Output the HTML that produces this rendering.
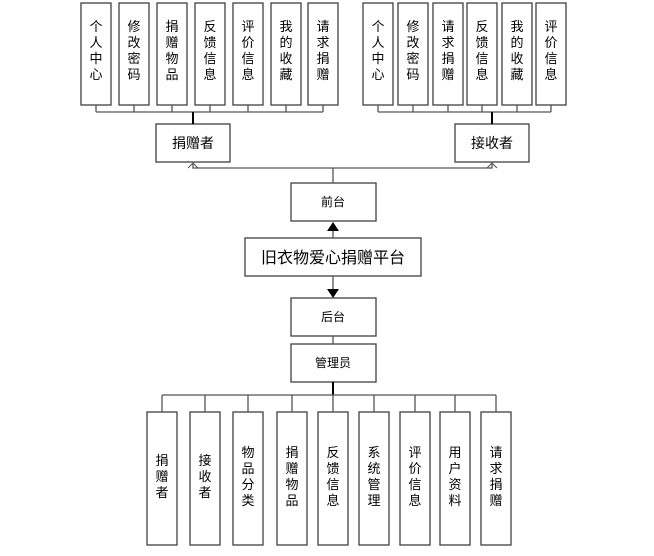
<!DOCTYPE html>
<html><head><meta charset="utf-8"><style>
html,body{margin:0;padding:0;background:#fff;}
svg{display:block;}
text{font-family:"Liberation Sans","Noto Sans CJK SC",sans-serif;fill:#000;}
</style></head><body>
<svg width="654" height="556" viewBox="0 0 654 556" xmlns="http://www.w3.org/2000/svg">
<g fill="#fff" stroke="#404040" stroke-width="1.3">
<!-- top left boxes -->
<rect x="81" y="3" width="30" height="102"/>
<rect x="119" y="3" width="30" height="102"/>
<rect x="157" y="3" width="30" height="102"/>
<rect x="195" y="3" width="30" height="102"/>
<rect x="233" y="3" width="30" height="102"/>
<rect x="271" y="3" width="30" height="102"/>
<rect x="308" y="3" width="30" height="102"/>
<!-- top right boxes -->
<rect x="363" y="3" width="30" height="102"/>
<rect x="398" y="3" width="30" height="102"/>
<rect x="433" y="3" width="30" height="102"/>
<rect x="467" y="3" width="30" height="102"/>
<rect x="502" y="3" width="30" height="102"/>
<rect x="536" y="3" width="30" height="102"/>
<rect x="156" y="124" width="74" height="38"/>
<rect x="455" y="124" width="74" height="38"/>
<rect x="291" y="183" width="85" height="38"/>
<rect x="245" y="238" width="176" height="38"/>
<rect x="291" y="298" width="85" height="38"/>
<rect x="291" y="344" width="85" height="38"/>
<!-- bottom -->
<rect x="147" y="412" width="30" height="133"/>
<rect x="190" y="412" width="30" height="133"/>
<rect x="233" y="412" width="30" height="133"/>
<rect x="277" y="412" width="30" height="133"/>
<rect x="318" y="412" width="30" height="133"/>
<rect x="359" y="412" width="30" height="133"/>
<rect x="400" y="412" width="30" height="133"/>
<rect x="440" y="412" width="30" height="133"/>
<rect x="481" y="412" width="30" height="133"/>
</g>
<g stroke="#555" stroke-width="1.3" fill="none">
<path d="M96 105V112M134 105V112M172 105V112M210 105V112M248 105V112M286 105V112M323 105V112M96 112H323"/>
<path d="M378 105V112M413 105V112M448 105V112M482 105V112M517 105V112M551 105V112M378 112H551"/>
<path d="M193 112V124M492 112V124" stroke="#000" stroke-width="2"/>
<path d="M193 163V168H492V163M333 168V183"/>
<path d="M188 168L193 163L198 168M487 168L492 163L497 168" stroke-width="1"/>
<path d="M333 230V238M333 276V290M333 336V344"/>
<path d="M333 382V395" stroke="#000" stroke-width="2"/>
<path d="M162 395H496M162 395V412M205 395V412M248 395V412M292 395V412M333 395V412M374 395V412M415 395V412M455 395V412M496 395V412"/>
</g>
<path d="M327 231L333 222L339 231Z" fill="#000"/>
<path d="M327 289L333 298L339 289Z" fill="#000"/>
<g font-size="13" text-anchor="middle">
<text x="96" y="31">个</text><text x="96" y="47">人</text><text x="96" y="63">中</text><text x="96" y="79">心</text>
<text x="134" y="31">修</text><text x="134" y="47">改</text><text x="134" y="63">密</text><text x="134" y="79">码</text>
<text x="172" y="31">捐</text><text x="172" y="47">赠</text><text x="172" y="63">物</text><text x="172" y="79">品</text>
<text x="210" y="31">反</text><text x="210" y="47">馈</text><text x="210" y="63">信</text><text x="210" y="79">息</text>
<text x="248" y="31">评</text><text x="248" y="47">价</text><text x="248" y="63">信</text><text x="248" y="79">息</text>
<text x="286" y="31">我</text><text x="286" y="47">的</text><text x="286" y="63">收</text><text x="286" y="79">藏</text>
<text x="323" y="31">请</text><text x="323" y="47">求</text><text x="323" y="63">捐</text><text x="323" y="79">赠</text>
<text x="378" y="31">个</text><text x="378" y="47">人</text><text x="378" y="63">中</text><text x="378" y="79">心</text>
<text x="413" y="31">修</text><text x="413" y="47">改</text><text x="413" y="63">密</text><text x="413" y="79">码</text>
<text x="448" y="31">请</text><text x="448" y="47">求</text><text x="448" y="63">捐</text><text x="448" y="79">赠</text>
<text x="482" y="31">反</text><text x="482" y="47">馈</text><text x="482" y="63">信</text><text x="482" y="79">息</text>
<text x="517" y="31">我</text><text x="517" y="47">的</text><text x="517" y="63">收</text><text x="517" y="79">藏</text>
<text x="551" y="31">评</text><text x="551" y="47">价</text><text x="551" y="63">信</text><text x="551" y="79">息</text>
</g>
<g font-size="14" text-anchor="middle">
<text x="193" y="148">捐赠者</text>
<text x="492" y="148">接收者</text>
</g>
<g font-size="12" text-anchor="middle">
<text x="333" y="206">前台</text>
<text x="333" y="321">后台</text>
<text x="333" y="367">管理员</text>
</g>
<text x="333" y="263" font-size="16" text-anchor="middle">旧衣物爱心捐赠平台</text>
<g font-size="13" text-anchor="middle">
<text x="162" y="465">捐</text><text x="162" y="481">赠</text><text x="162" y="497">者</text>
<text x="205" y="465">接</text><text x="205" y="481">收</text><text x="205" y="497">者</text>
<text x="248" y="457">物</text><text x="248" y="473">品</text><text x="248" y="489">分</text><text x="248" y="505">类</text>
<text x="292" y="457">捐</text><text x="292" y="473">赠</text><text x="292" y="489">物</text><text x="292" y="505">品</text>
<text x="333" y="457">反</text><text x="333" y="473">馈</text><text x="333" y="489">信</text><text x="333" y="505">息</text>
<text x="374" y="457">系</text><text x="374" y="473">统</text><text x="374" y="489">管</text><text x="374" y="505">理</text>
<text x="415" y="457">评</text><text x="415" y="473">价</text><text x="415" y="489">信</text><text x="415" y="505">息</text>
<text x="455" y="457">用</text><text x="455" y="473">户</text><text x="455" y="489">资</text><text x="455" y="505">料</text>
<text x="496" y="457">请</text><text x="496" y="473">求</text><text x="496" y="489">捐</text><text x="496" y="505">赠</text>
</g>
</svg>
</body></html>
